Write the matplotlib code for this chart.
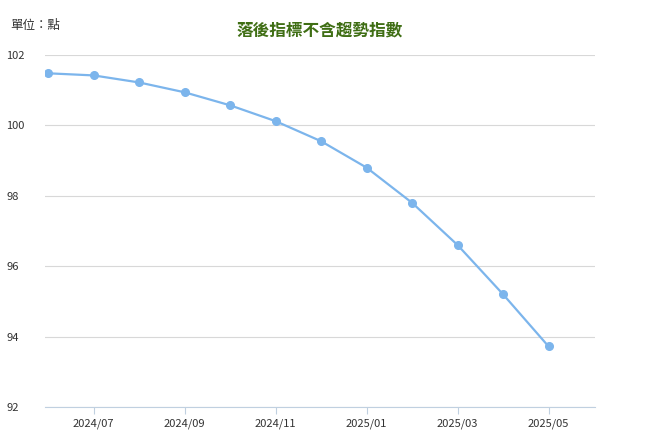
import matplotlib
matplotlib.use("Agg")
import matplotlib.pyplot as plt

plt.rcParams['font.family'] = ['Noto Sans CJK TC', 'DejaVu Sans']

months = ["2024/06","2024/07","2024/08","2024/09","2024/10","2024/11","2024/12",
          "2025/01","2025/02","2025/03","2025/04","2025/05"]
values = [101.48, 101.42, 101.22, 100.94, 100.57, 100.12, 99.55, 98.80, 97.80, 96.60, 95.20, 93.72]
yticks = [92, 94, 96, 98, 100, 102]

fig = plt.figure(figsize=(6.46, 4.48), dpi=100)
ax = fig.add_axes([45/646, 1-407/448, 550/646, 352/448])
x = list(range(len(months)))
ax.plot(x, values, color="#7cb5ec", lw=1.6, marker="o", ms=5.5, zorder=3)
ax.set_ylim(92, 102)
ax.set_xlim(-0.07, 12.02)
ax.set_yticks(yticks)
ax.set_xticks(x[1::2])
ax.set_xticklabels(months[1::2])
ax.grid(axis="y", color="#d8d8d8", lw=0.8)
for s in ["top", "right", "left"]:
    ax.spines[s].set_visible(False)
ax.spines["bottom"].set_color("#c0d0e0")
ax.tick_params(axis="y", length=0, labelsize=8, colors="#333333")
ax.tick_params(axis="x", length=5, color="#c0d0e0", labelsize=8, colors="#333333")
for lab in ax.get_yticklabels():
    lab.set_horizontalalignment("left")
ax.yaxis.set_tick_params(pad=28)
fig.text(10/646, 1-25/448, "單位：點", fontsize=9, color="#333333", va="center")
fig.text(320/646, 1-30/448, "落後指標不含趨勢指數", fontsize=12, fontweight="bold",
         color="#3f6e14", ha="center", va="center")
fig.savefig("out.png", dpi=100)
